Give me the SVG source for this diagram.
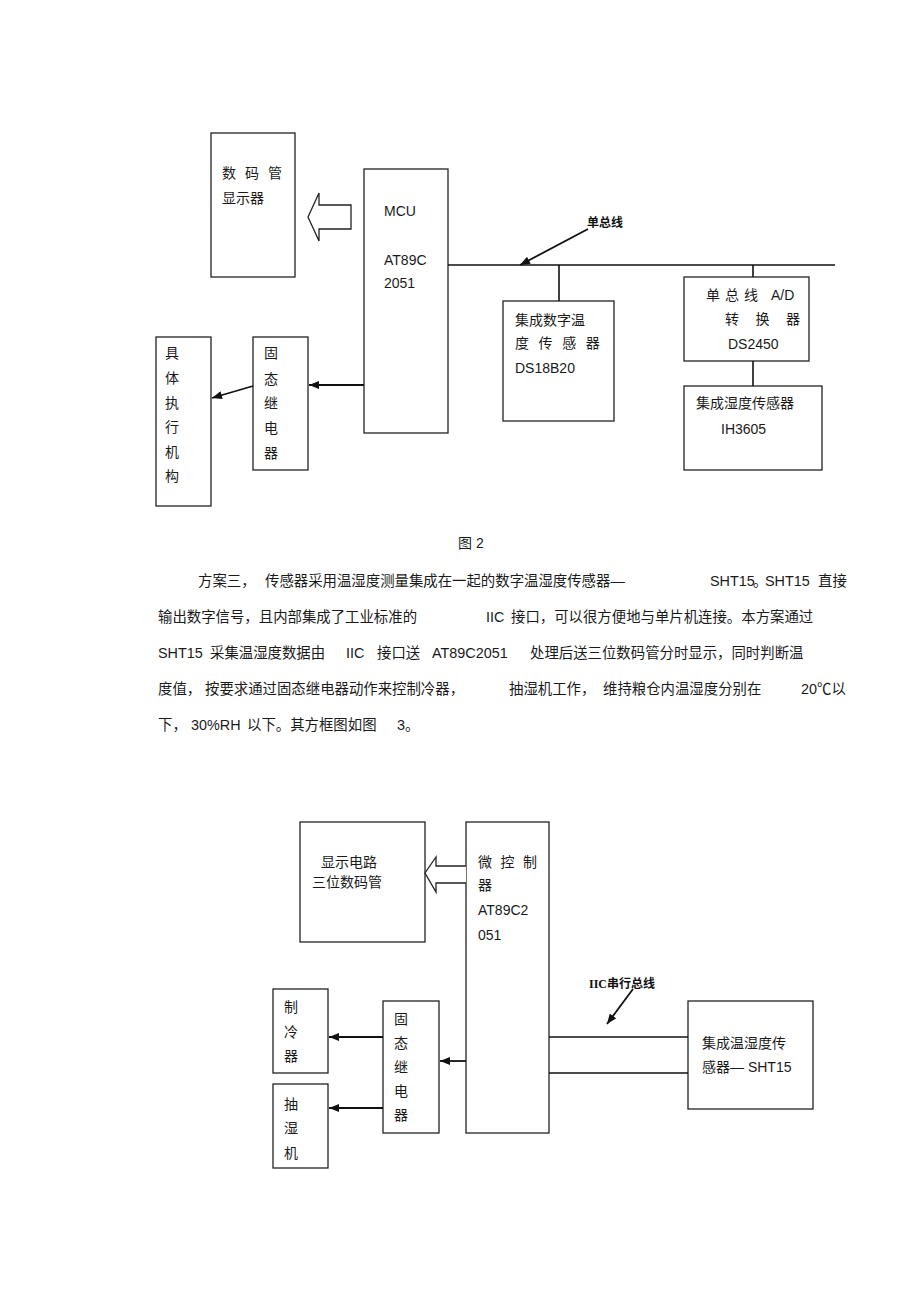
<svg xmlns="http://www.w3.org/2000/svg" width="920" height="1303" viewBox="0 0 920 1303">
<style>
.box{fill:none;stroke:#222;stroke-width:1.3}
.t{font-family:"Liberation Sans","Noto Sans CJK SC",sans-serif;font-size:14px;fill:#1a1a1a}
.tm{font-family:"Liberation Sans","Noto Sans CJK SC",sans-serif;font-size:14px;fill:#1a1a1a;text-anchor:middle}
.p{font-family:"Liberation Sans","Noto Sans CJK SC",sans-serif;font-size:14.4px;fill:#1a1a1a}
.lbl{font-family:"Liberation Serif","Noto Sans CJK SC",serif;font-size:12px;font-weight:bold;fill:#111}
.w{stroke:#111;stroke-width:1.6;fill:none}
.a{stroke:#111;stroke-width:1.8;fill:none;marker-end:url(#ah)}
.hol{fill:#fff;stroke:#222;stroke-width:1.3}
</style>
<defs>
<marker id="ah" viewBox="0 0 10 8" refX="10" refY="4" markerWidth="11" markerHeight="8" markerUnits="userSpaceOnUse" orient="auto"><path d="M0,0 L10,4 L0,8 z" fill="#111"/></marker>
</defs>
<rect width="920" height="1303" fill="#fff"/>

<!-- Figure 2 -->
<g id="display1"><rect class="box" x="211" y="133" width="84" height="144"/>
<text class="t" x="222" y="178" letter-spacing="9">数码管</text>
<text class="t" x="222" y="203">显示器</text></g>
<g id="mcu1"><rect class="box" x="364" y="169" width="84" height="264"/>
<text class="t" x="384" y="216">MCU</text>
<text class="t" x="384" y="265">AT89C</text>
<text class="t" x="384" y="288">2051</text></g>
<g id="ds18b20"><rect class="box" x="503" y="301" width="111" height="120"/>
<text class="t" x="515" y="325">集成数字温</text>
<text class="t" x="515" y="348" letter-spacing="9.6">度传感器</text>
<text class="t" x="515" y="373">DS18B20</text></g>
<g id="ds2450"><rect class="box" x="684" y="277" width="125" height="84"/>
<text class="t" x="706" y="300" letter-spacing="5">单总线</text>
<text class="t" x="771" y="300">A/D</text>
<text class="t" x="725" y="324" letter-spacing="16.5">转换器</text>
<text class="t" x="728" y="349">DS2450</text></g>
<g id="ih3605"><rect class="box" x="684" y="386" width="138" height="84"/>
<text class="t" x="696" y="408">集成湿度传感器</text>
<text class="t" x="721" y="434">IH3605</text></g>
<g id="relay1"><rect class="box" x="253" y="337" width="55" height="133"/>
<text class="tm" x="271" y="358">固</text><text class="tm" x="271" y="384">态</text><text class="tm" x="271" y="408">继</text><text class="tm" x="271" y="433">电</text><text class="tm" x="271" y="458">器</text></g>
<g id="actuator"><rect class="box" x="156" y="337" width="55" height="169"/>
<text class="tm" x="172" y="358">具</text><text class="tm" x="172" y="383">体</text><text class="tm" x="172" y="408">执</text><text class="tm" x="172" y="432">行</text><text class="tm" x="172" y="457">机</text><text class="tm" x="172" y="481">构</text></g>
<g id="connectors1">
<polygon class="hol" points="308,217 319,193 319,205 351,205 351,229 319,229 319,241"/>
<line class="w" x1="448" y1="265" x2="835" y2="265"/>
<line class="w" x1="559" y1="265" x2="559" y2="301" stroke-width="2"/>
<line class="w" x1="753" y1="265" x2="753" y2="277" stroke-width="2"/>
<line class="w" x1="753" y1="361" x2="753" y2="386" stroke-width="2"/>
<line class="a" x1="588" y1="229" x2="520" y2="265"/>
<line class="a" x1="364" y1="385" x2="309" y2="385"/>
<line class="a" x1="253" y1="386" x2="212" y2="398"/>
<text class="lbl" x="587" y="227">单总线</text>
</g>
<text class="t" x="458" y="548">图 2</text>

<!-- paragraph -->
<g id="paragraph">
<text class="p" x="198" y="586">方案三，</text>
<text class="p" x="265" y="586">传感器采用温湿度测量集成在一起的数字温湿度传感器—</text>
<text class="p" x="710" y="586">SHT15</text><text class="p" x="753" y="586">。</text><text class="p" x="765" y="586">SHT15</text>
<text class="p" x="818" y="586">直接</text>
<text class="p" x="158" y="622">输出数字信号，且内部集成了工业标准的</text>
<text class="p" x="486" y="622">IIC</text>
<text class="p" x="511" y="622">接口，可以很方便地与单片机连接。本方案通过</text>
<text class="p" x="158" y="658">SHT15</text>
<text class="p" x="210" y="658">采集温湿度数据由</text>
<text class="p" x="346" y="658">IIC</text>
<text class="p" x="377" y="658">接口送</text>
<text class="p" x="432" y="658">AT89C2051</text>
<text class="p" x="530" y="658">处理后送三位数码管分时显示，同时判断温</text>
<text class="p" x="158" y="694">度值，</text>
<text class="p" x="205" y="694">按要求通过固态继电器动作来控制冷器，</text>
<text class="p" x="509" y="694">抽湿机工作，</text>
<text class="p" x="603" y="694">维持粮仓内温湿度分别在</text>
<text class="p" x="801" y="694">20℃以</text>
<text class="p" x="158" y="730">下，</text>
<text class="p" x="191" y="730">30%RH</text>
<text class="p" x="247" y="730">以下。其方框图如图</text>
<text class="p" x="397" y="730">3。</text>
</g>

<!-- Figure 3 -->
<g id="display2"><rect class="box" x="300" y="822" width="125" height="120"/>
<text class="t" x="321" y="867">显示电路</text>
<text class="t" x="312" y="887">三位数码管</text></g>
<g id="mcu2"><rect class="box" x="466" y="822" width="83" height="311"/>
<text class="t" x="478" y="867" letter-spacing="8.5">微控制</text>
<text class="t" x="478" y="890">器</text>
<text class="t" x="478" y="915">AT89C2</text>
<text class="t" x="478" y="940">051</text></g>
<g id="sht15"><rect class="box" x="688" y="1001" width="125" height="108"/>
<text class="t" x="702" y="1048">集成温湿度传</text>
<text class="t" x="702" y="1072">感器— SHT15</text></g>
<g id="relay2"><rect class="box" x="383" y="1001" width="56" height="132"/>
<text class="tm" x="401" y="1024">固</text><text class="tm" x="401" y="1048">态</text><text class="tm" x="401" y="1072">继</text><text class="tm" x="401" y="1096">电</text><text class="tm" x="401" y="1120">器</text></g>
<g id="cooler"><rect class="box" x="273" y="989" width="55" height="84"/>
<text class="tm" x="291" y="1012">制</text><text class="tm" x="291" y="1037">冷</text><text class="tm" x="291" y="1061">器</text></g>
<g id="dehumidifier"><rect class="box" x="273" y="1084" width="55" height="84"/>
<text class="tm" x="291" y="1109">抽</text><text class="tm" x="291" y="1133">湿</text><text class="tm" x="291" y="1158">机</text></g>
<g id="connectors2">
<polyline class="hol" points="466,866 436,866 436,857 425,873 436,892 436,883 466,883"/>
<line class="w" x1="549" y1="1037" x2="688" y2="1037" stroke="#333"/>
<line class="w" x1="549" y1="1073" x2="688" y2="1073" stroke="#333"/>
<line class="a" x1="633" y1="989" x2="607" y2="1024"/>
<line class="a" x1="466" y1="1061" x2="440" y2="1061"/>
<line class="a" x1="383" y1="1037" x2="329" y2="1037"/>
<line class="a" x1="383" y1="1108" x2="329" y2="1108"/>
<text class="lbl" x="589" y="988" font-size="11">IIC串行总线</text>
</g>
</svg>
